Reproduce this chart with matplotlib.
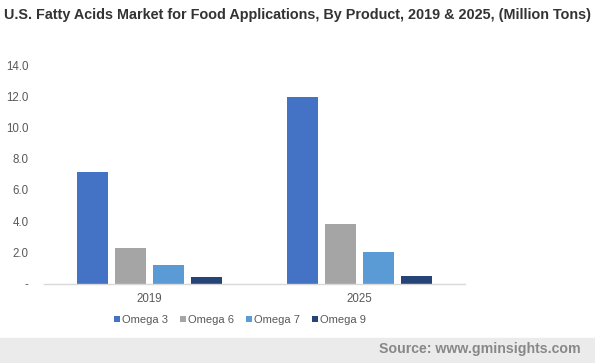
import matplotlib
matplotlib.use("Agg")
import matplotlib.pyplot as plt
import numpy as np

plt.rcParams['font.family'] = ['Liberation Sans', 'DejaVu Sans']

categories = ["2019", "2025"]
series = ["Omega 3", "Omega 6", "Omega 7", "Omega 9"]
values = {
    "Omega 3": [7.15, 11.95],
    "Omega 6": [2.28, 3.81],
    "Omega 7": [1.19, 2.02],
    "Omega 9": [0.44, 0.50],
}
colors = ["#4472C4", "#A5A5A5", "#5B9BD5", "#264478"]
yticks = [0, 2, 4, 6, 8, 10, 12, 14]
ytick_labels = ["-", "2.0", "4.0", "6.0", "8.0", "10.0", "12.0", "14.0"]

W, H = 595, 363
fig = plt.figure(figsize=(W / 100, H / 100), dpi=100)
ax = fig.add_axes([44 / W, (H - 283.5) / H, (465 - 44) / W, (283.5 - 65) / H])

x = np.arange(len(categories))
bw = 0.147
step = 0.18
for i, (s, c) in enumerate(zip(series, colors)):
    ax.bar(x + (i - 1.5) * step, values[s], width=bw, color=c, label=s, zorder=2)

ax.set_xlim(-0.5, 1.5)
ax.set_ylim(0, 14)
ax.set_yticks(yticks)
ax.set_yticklabels(ytick_labels)
ax.set_xticks(x)
ax.set_xticklabels(categories)
for sp in ["top", "right", "left"]:
    ax.spines[sp].set_visible(False)
ax.spines["bottom"].set_color("#D9D9D9")
ax.spines["bottom"].set_linewidth(1)
ax.tick_params(axis="both", length=0, labelsize=8.3, labelcolor="#595959")
ax.tick_params(axis="y", pad=11)
ax.tick_params(axis="x", pad=7)

leg = fig.legend(loc="center", bbox_to_anchor=(240 / W, 1 - 320 / H), ncol=4,
                 frameon=False, fontsize=8, handlelength=0.55, handleheight=0.55,
                 handletextpad=0.2, columnspacing=1.05)
for t in leg.get_texts():
    t.set_color("#595959")

fig.text(4 / W, 1 - 15 / H,
         "U.S. Fatty Acids Market for Food Applications, By Product, 2019 & 2025, (Million Tons)",
         ha="left", va="center", fontsize=10.35, fontweight="bold", color="#333333")

fig.patches.append(plt.Rectangle((0, 0), 1, (H - 337.5) / H, transform=fig.transFigure,
                                 color="#EBEBEB", zorder=0))
fig.text(581 / W, 1 - 349 / H, "Source: www.gminsights.com", ha="right", va="center",
         fontsize=10.2, fontweight="bold", color="#888888")

fig.savefig("out.png", dpi=100)
